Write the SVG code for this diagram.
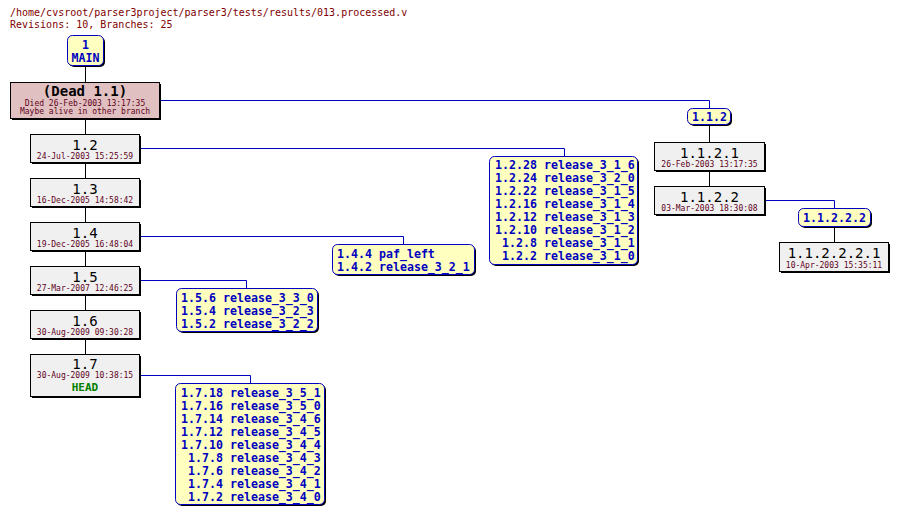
<svg xmlns="http://www.w3.org/2000/svg" width="899" height="516" viewBox="0 0 899 516">
<style>
text{font-family:"DejaVu Sans Mono","Liberation Mono",monospace}
.title{font-size:10px;fill:#800000}
.rev rect.b{fill:#f0f0f0;stroke:#000;stroke-width:1}
.dead rect.b{fill:#e0c0c0;stroke:#000;stroke-width:1}
.sh{fill:#000}
.tag rect.b{fill:#ffffc0;stroke:#0000c0;stroke-width:1}
.num{font-size:14px;fill:#000;text-anchor:middle}
.date{font-size:8px;fill:#600020;text-anchor:middle}
.t{font-size:11.6px;font-weight:bold;fill:#0000c0}
.tc{text-anchor:middle}
.te{text-anchor:end}
.head{font-size:11px;font-weight:bold;fill:#008000;text-anchor:middle}
.bl{stroke:#0000c0;stroke-width:1;fill:none}
.kl{stroke:#000;stroke-width:1;fill:none}
</style>
<text class="title" x="10" y="16">/home/cvsroot/parser3project/parser3/tests/results/013.processed.v</text>
<text class="title" x="10" y="28">Revisions: 10, Branches: 25</text>

<g id="connectors">
<path class="kl" d="M85.5 65V354"/>
<path class="kl" d="M709.5 124V186"/>
<path class="kl" d="M834.5 226V242"/>
<path class="bl" d="M159 100.5H709.5V108"/>
<path class="bl" d="M139 148.5H564.5V156"/>
<path class="bl" d="M139 236.5H403.5V244"/>
<path class="bl" d="M139 280.5H246.5V288"/>
<path class="bl" d="M139 375.5H250.5V383"/>
<path class="bl" d="M764 200.5H834.5V208"/>
</g>

<g id="n-main" class="tag">
<rect class="sh" x="69" y="37" width="36" height="30" rx="5"/>
<rect class="b" x="67.5" y="35.5" width="36" height="30" rx="5"/>
<text class="t tc" x="85.5" y="49">1</text>
<text class="t tc" x="85.5" y="62">MAIN</text>
</g>

<g id="n-1.1" class="dead">
<rect class="sh" x="12" y="84" width="149" height="36"/>
<rect class="b" x="10.5" y="82.5" width="149" height="36"/>
<text class="num" x="85" y="96" style="font-weight:bold">(Dead 1.1)</text>
<text class="date" x="85" y="105.5">Died 26-Feb-2003 13:17:35</text>
<text class="date" x="85" y="114">Maybe alive in other branch</text>
</g>

<g id="n-1.2" class="rev">
<rect class="sh" x="32" y="136" width="109" height="28"/>
<rect class="b" x="30.5" y="134.5" width="109" height="28"/>
<text class="num" x="85" y="150">1.2</text>
<text class="date" x="85" y="159">24-Jul-2003 15:25:59</text>
</g>
<g id="n-1.3" class="rev">
<rect class="sh" x="32" y="180" width="109" height="28"/>
<rect class="b" x="30.5" y="178.5" width="109" height="28"/>
<text class="num" x="85" y="194">1.3</text>
<text class="date" x="85" y="203">16-Dec-2005 14:58:42</text>
</g>
<g id="n-1.4" class="rev">
<rect class="sh" x="32" y="224" width="109" height="28"/>
<rect class="b" x="30.5" y="222.5" width="109" height="28"/>
<text class="num" x="85" y="238">1.4</text>
<text class="date" x="85" y="247">19-Dec-2005 16:48:04</text>
</g>
<g id="n-1.5" class="rev">
<rect class="sh" x="32" y="268" width="109" height="28"/>
<rect class="b" x="30.5" y="266.5" width="109" height="28"/>
<text class="num" x="85" y="282">1.5</text>
<text class="date" x="85" y="291">27-Mar-2007 12:46:25</text>
</g>
<g id="n-1.6" class="rev">
<rect class="sh" x="32" y="312" width="109" height="28"/>
<rect class="b" x="30.5" y="310.5" width="109" height="28"/>
<text class="num" x="85" y="326">1.6</text>
<text class="date" x="85" y="335">30-Aug-2009 09:30:28</text>
</g>
<g id="n-1.7" class="rev">
<rect class="sh" x="32" y="356" width="109" height="42"/>
<rect class="b" x="30.5" y="354.5" width="109" height="42"/>
<text class="num" x="85" y="369">1.7</text>
<text class="date" x="85" y="378">30-Aug-2009 10:38:15</text>
<text class="head" x="85" y="391">HEAD</text>
</g>

<g id="n-1.1.2" class="tag">
<rect class="sh" x="689" y="110" width="43" height="16" rx="5"/>
<rect class="b" x="687.5" y="108.5" width="43" height="16" rx="5"/>
<text class="t tc" x="709.5" y="121">1.1.2</text>
</g>
<g id="n-1.1.2.1" class="rev">
<rect class="sh" x="656" y="144" width="110" height="28"/>
<rect class="b" x="654.5" y="142.5" width="110" height="28"/>
<text class="num" x="709.5" y="158">1.1.2.1</text>
<text class="date" x="709.5" y="167">26-Feb-2003 13:17:35</text>
</g>
<g id="n-1.1.2.2" class="rev">
<rect class="sh" x="656" y="188" width="110" height="28"/>
<rect class="b" x="654.5" y="186.5" width="110" height="28"/>
<text class="num" x="709.5" y="202">1.1.2.2</text>
<text class="date" x="709.5" y="211">03-Mar-2003 18:30:08</text>
</g>
<g id="n-1.1.2.2.2" class="tag">
<rect class="sh" x="800" y="210" width="72" height="18" rx="5"/>
<rect class="b" x="798.5" y="208.5" width="72" height="18" rx="5"/>
<text class="t tc" x="834.5" y="222">1.1.2.2.2</text>
</g>
<g id="n-1.1.2.2.2.1" class="rev">
<rect class="sh" x="781" y="244" width="109" height="29"/>
<rect class="b" x="779.5" y="242.5" width="109" height="29"/>
<text class="num" x="834" y="258">1.1.2.2.2.1</text>
<text class="date" x="834" y="268">10-Apr-2003 15:35:11</text>
</g>

<g id="n-tags-1.2" class="tag">
<rect class="sh" x="491" y="158" width="148" height="108" rx="5"/>
<rect class="b" x="489.5" y="156.5" width="148" height="108" rx="5"/>
<g class="t">
<text class="te" x="537" y="169">1.2.28</text><text x="544" y="169">release_3_1_6</text>
<text class="te" x="537" y="182">1.2.24</text><text x="544" y="182">release_3_2_0</text>
<text class="te" x="537" y="195">1.2.22</text><text x="544" y="195">release_3_1_5</text>
<text class="te" x="537" y="208">1.2.16</text><text x="544" y="208">release_3_1_4</text>
<text class="te" x="537" y="221">1.2.12</text><text x="544" y="221">release_3_1_3</text>
<text class="te" x="537" y="234">1.2.10</text><text x="544" y="234">release_3_1_2</text>
<text class="te" x="537" y="247">1.2.8</text><text x="544" y="247">release_3_1_1</text>
<text class="te" x="537" y="260">1.2.2</text><text x="544" y="260">release_3_1_0</text>
</g>
</g>

<g id="n-tags-1.4" class="tag">
<rect class="sh" x="334" y="246" width="142" height="30" rx="5"/>
<rect class="b" x="332.5" y="244.5" width="142" height="30" rx="5"/>
<g class="t">
<text class="te" x="372" y="258">1.4.4</text><text x="379" y="258">paf_left</text>
<text class="te" x="372" y="271">1.4.2</text><text x="379" y="271">release_3_2_1</text>
</g>
</g>

<g id="n-tags-1.5" class="tag">
<rect class="sh" x="178" y="290" width="141" height="43" rx="5"/>
<rect class="b" x="176.5" y="288.5" width="141" height="43" rx="5"/>
<g class="t">
<text class="te" x="216" y="302">1.5.6</text><text x="223" y="302">release_3_3_0</text>
<text class="te" x="216" y="315">1.5.4</text><text x="223" y="315">release_3_2_3</text>
<text class="te" x="216" y="328">1.5.2</text><text x="223" y="328">release_3_2_2</text>
</g>
</g>

<g id="n-tags-1.7" class="tag">
<rect class="sh" x="177" y="385" width="149" height="121" rx="5"/>
<rect class="b" x="175.5" y="383.5" width="149" height="121" rx="5"/>
<g class="t">
<text class="te" x="223" y="397">1.7.18</text><text x="230" y="397">release_3_5_1</text>
<text class="te" x="223" y="410">1.7.16</text><text x="230" y="410">release_3_5_0</text>
<text class="te" x="223" y="423">1.7.14</text><text x="230" y="423">release_3_4_6</text>
<text class="te" x="223" y="436">1.7.12</text><text x="230" y="436">release_3_4_5</text>
<text class="te" x="223" y="449">1.7.10</text><text x="230" y="449">release_3_4_4</text>
<text class="te" x="223" y="462">1.7.8</text><text x="230" y="462">release_3_4_3</text>
<text class="te" x="223" y="475">1.7.6</text><text x="230" y="475">release_3_4_2</text>
<text class="te" x="223" y="488">1.7.4</text><text x="230" y="488">release_3_4_1</text>
<text class="te" x="223" y="501">1.7.2</text><text x="230" y="501">release_3_4_0</text>
</g>
</g>
</svg>
